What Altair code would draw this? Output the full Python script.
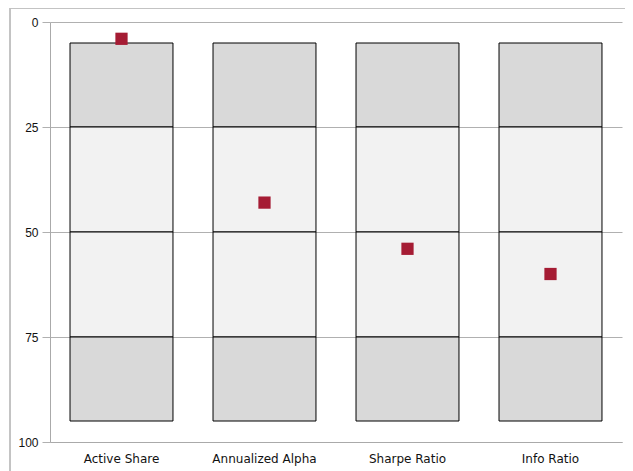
import altair as alt
import pandas as pd

categories = ["Active Share", "Annualized Alpha", "Sharpe Ratio", "Info Ratio"]
scores = [4, 43, 54, 60]
band_starts = [5, 25, 50, 75]
band_ends = [25, 50, 75, 95]
band_kind = ["outer", "inner", "inner", "outer"]

rows = []
for c in categories:
    for s, e, k in zip(band_starts, band_ends, band_kind):
        rows.append({"category": c, "start": s, "end": e, "kind": k})
bands = pd.DataFrame(rows)
points = pd.DataFrame({"category": categories, "score": scores})

xscale = alt.Scale(domain=categories, paddingInner=0.28, paddingOuter=0.14)
yscale = alt.Scale(domain=[0, 100], reverse=True, nice=False)

bars = alt.Chart(bands).mark_bar(stroke="black", strokeWidth=1, opacity=1).encode(
    x=alt.X("category:N", scale=xscale, sort=categories,
            axis=alt.Axis(title=None, labelAngle=0, ticks=False, labelPadding=11,
                          labelFontSize=12, labelColor="#111", domainColor="#aaaaaa",
                          labelFont="DejaVu Sans")),
    y=alt.Y("start:Q", scale=yscale,
            axis=alt.Axis(title=None, values=[0, 25, 50, 75, 100], gridColor="#b0b0b0",
                          tickColor="#b0b0b0", tickSize=8, labelPadding=4,
                          domainColor="#aaaaaa", labelFontSize=12, labelColor="#111",
                          labelFont="Liberation Sans")),
    y2="end:Q",
    fill=alt.Fill("kind:N", scale=alt.Scale(domain=["outer", "inner"],
                                             range=["#d9d9d9", "#f2f2f2"]), legend=None),
)

marks = alt.Chart(points).mark_square(size=150, color="#a51c34", opacity=1).encode(
    x=alt.X("category:N", scale=xscale, sort=categories),
    y=alt.Y("score:Q", scale=yscale),
)

frame_top = alt.Chart(points).mark_rule(color="#c0c0c0", strokeWidth=1, clip=False).encode(
    x=alt.value(-40), x2=alt.value(600), y=alt.value(-14))
frame_left = alt.Chart(points).mark_rule(color="#c0c0c0", strokeWidth=1, clip=False).encode(
    x=alt.value(-40), y=alt.value(-14), y2=alt.value(460))

chart = alt.layer(bars, marks, frame_top, frame_left).properties(
    width=572, height=420,
    padding={"left": 42, "top": 14, "right": 3, "bottom": 29},
    autosize=alt.AutoSizeParams(type="none"),
).configure_view(stroke=None)

chart.save("out.html", embed_options={"renderer": "svg", "actions": False})
